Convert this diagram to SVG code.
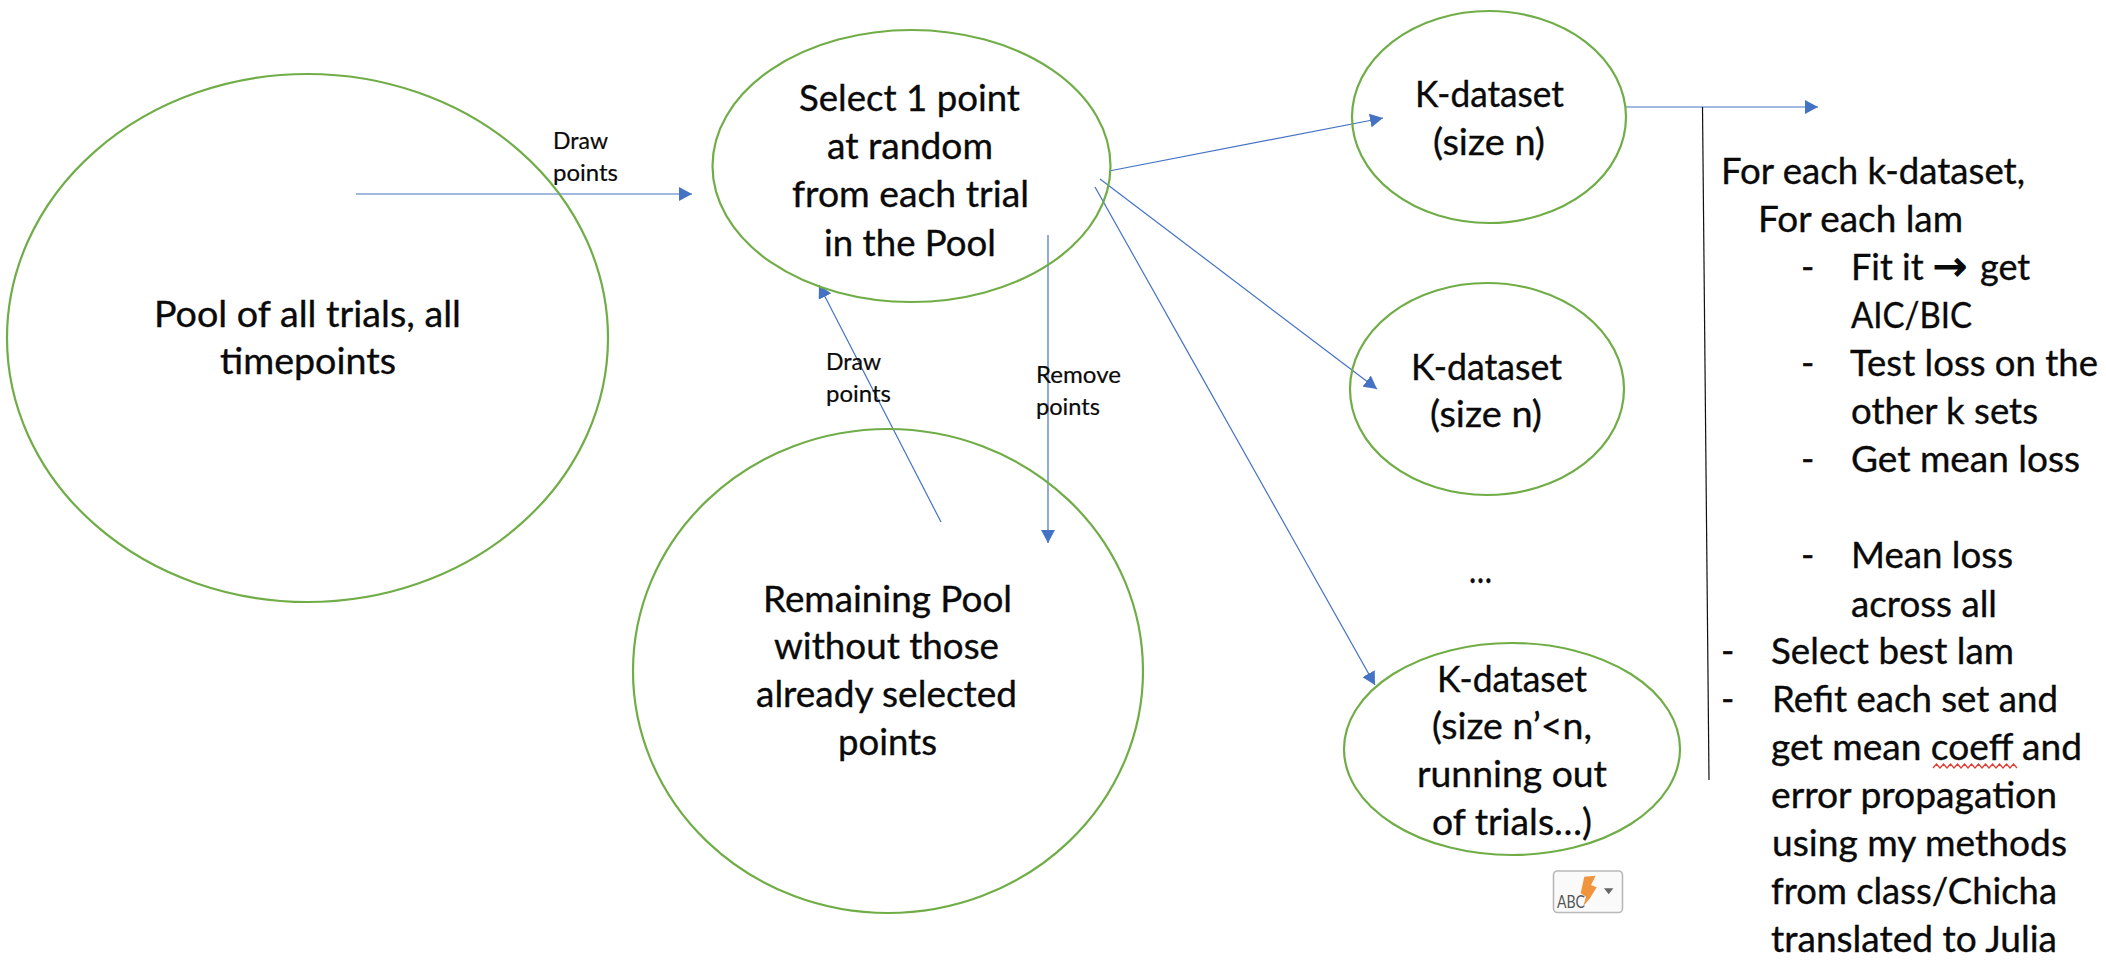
<svg xmlns="http://www.w3.org/2000/svg" width="2106" height="978" viewBox="0 0 2106 978">
<style>
.n{fill:none;stroke:#70AD47;stroke-width:2.2}
.c{fill:none;stroke:#4472C4;stroke-width:1.2;marker-end:url(#a)}
text{font-family:Lato,"Liberation Sans",sans-serif;fill:#0a0a0a}
.t{font-size:36px;stroke:#0a0a0a;stroke-width:.35}
.s{font-size:24px;stroke:#0a0a0a;stroke-width:.2}
</style>
<defs>
<marker id="a" markerUnits="userSpaceOnUse" markerWidth="14" markerHeight="14" refX="13" refY="7" orient="auto"><path d="M0 0L13 7L0 14Z" fill="#4472C4"/></marker>
</defs>
<rect width="2106" height="978" fill="#fff"/>
<g id="connectors">
<path class="c" d="M356 194H692"/>
<path class="c" d="M941 522L819 285"/>
<path class="c" d="M1048 235V543"/>
<path class="c" d="M1109 171L1383 118"/>
<path class="c" d="M1100 179L1377 389"/>
<path class="c" d="M1095 187L1375 685"/>
<path class="c" d="M1626 107H1818"/>
<path d="M1702.500 107L1709 780" fill="none" stroke="#111" stroke-width="1.200"/>
</g>
<g id="node-pool">
<ellipse class="n" cx="307.500" cy="338" rx="300.500" ry="264"/>
<text class="t" x="154" y="327" textLength="307" lengthAdjust="spacingAndGlyphs">Pool of all trials, all</text>
<text class="t" x="220" y="374" textLength="176" lengthAdjust="spacingAndGlyphs">timepoints</text>
</g>
<g id="node-select">
<ellipse class="n" cx="911.500" cy="166" rx="199" ry="136"/>
<text class="t" x="799" y="111" textLength="221" lengthAdjust="spacingAndGlyphs">Select 1 point</text>
<text class="t" x="827" y="159" textLength="166" lengthAdjust="spacingAndGlyphs">at random</text>
<text class="t" x="792" y="207" textLength="237" lengthAdjust="spacingAndGlyphs">from each trial</text>
<text class="t" x="824" y="256" textLength="172" lengthAdjust="spacingAndGlyphs">in the Pool</text>
</g>
<g id="node-remaining">
<ellipse class="n" cx="888" cy="671" rx="255" ry="242"/>
<text class="t" x="763" y="612" textLength="249" lengthAdjust="spacingAndGlyphs">Remaining Pool</text>
<text class="t" x="774" y="659" textLength="225" lengthAdjust="spacingAndGlyphs">without those</text>
<text class="t" x="756" y="707" textLength="261" lengthAdjust="spacingAndGlyphs">already selected</text>
<text class="t" x="838" y="755" textLength="99" lengthAdjust="spacingAndGlyphs">points</text>
</g>
<g id="node-k1">
<ellipse class="n" cx="1489" cy="117" rx="137" ry="106"/>
<text class="t" x="1415" y="107" textLength="149" lengthAdjust="spacingAndGlyphs">K-dataset</text>
<text class="t" x="1433" y="155" textLength="112" lengthAdjust="spacingAndGlyphs">(size n)</text>
</g>
<g id="node-k2">
<ellipse class="n" cx="1487" cy="389" rx="137" ry="106"/>
<text class="t" x="1411" y="380" textLength="151" lengthAdjust="spacingAndGlyphs">K-dataset</text>
<text class="t" x="1430" y="427" textLength="112" lengthAdjust="spacingAndGlyphs">(size n)</text>
</g>
<g id="node-k3">
<ellipse class="n" cx="1512" cy="749" rx="168" ry="106"/>
<text class="t" x="1437" y="692" textLength="150" lengthAdjust="spacingAndGlyphs">K-dataset</text>
<text class="t" x="1432" y="739" textLength="160" lengthAdjust="spacingAndGlyphs">(size n’&lt;n,</text>
<text class="t" x="1417" y="787" textLength="190" lengthAdjust="spacingAndGlyphs">running out</text>
<text class="t" x="1432" y="835" textLength="160" lengthAdjust="spacingAndGlyphs">of trials…)</text>
</g>
<g id="ellipsis"><text class="t" x="1469" y="583" textLength="23" lengthAdjust="spacingAndGlyphs">…</text></g>
<g id="labels">
<text class="s" x="553" y="149" textLength="55" lengthAdjust="spacingAndGlyphs">Draw</text>
<text class="s" x="553" y="181" textLength="65" lengthAdjust="spacingAndGlyphs">points</text>
<text class="s" x="826" y="370" textLength="55" lengthAdjust="spacingAndGlyphs">Draw</text>
<text class="s" x="826" y="402" textLength="65" lengthAdjust="spacingAndGlyphs">points</text>
<text class="s" x="1036" y="383" textLength="85" lengthAdjust="spacingAndGlyphs">Remove</text>
<text class="s" x="1036" y="415" textLength="64" lengthAdjust="spacingAndGlyphs">points</text>
</g>
<g id="notes">
<text class="t" x="1721" y="184" textLength="304" lengthAdjust="spacingAndGlyphs">For each k-dataset,</text>
<text class="t" x="1758" y="232" textLength="205" lengthAdjust="spacingAndGlyphs">For each lam</text>
<text class="t" x="1801" y="280">-</text>
<text class="t" y="280"><tspan x="1851">Fit it</tspan><tspan x="1933" style="font-family:'DejaVu Sans',sans-serif;stroke-width:1.2" font-size="41">→</tspan><tspan x="1980">get</tspan></text>
<text class="t" x="1851" y="328" textLength="121" lengthAdjust="spacingAndGlyphs">AIC/BIC</text>
<text class="t" x="1801" y="376">-</text>
<text class="t" x="1850" y="376" textLength="248" lengthAdjust="spacingAndGlyphs">Test loss on the</text>
<text class="t" x="1851" y="424" textLength="187" lengthAdjust="spacingAndGlyphs">other k sets</text>
<text class="t" x="1801" y="472">-</text>
<text class="t" x="1851" y="472" textLength="229" lengthAdjust="spacingAndGlyphs">Get mean loss</text>
<text class="t" x="1801" y="568">-</text>
<text class="t" x="1851" y="568" textLength="162" lengthAdjust="spacingAndGlyphs">Mean loss</text>
<text class="t" x="1851" y="617" textLength="146" lengthAdjust="spacingAndGlyphs">across all</text>
<text class="t" x="1721" y="664">-</text>
<text class="t" x="1771" y="664" textLength="243" lengthAdjust="spacingAndGlyphs">Select best lam</text>
<text class="t" x="1721" y="712">-</text>
<text class="t" x="1772" y="712" textLength="286" lengthAdjust="spacingAndGlyphs">Refit each set and</text>
<text class="t" x="1771" y="760" textLength="311" lengthAdjust="spacingAndGlyphs">get mean coeff and</text>
<text class="t" x="1771" y="808" textLength="286" lengthAdjust="spacingAndGlyphs">error propagation</text>
<text class="t" x="1772" y="856" textLength="295" lengthAdjust="spacingAndGlyphs">using my methods</text>
<text class="t" x="1771" y="904" textLength="286" lengthAdjust="spacingAndGlyphs">from class/Chicha</text>
<text class="t" x="1771" y="952" textLength="286" lengthAdjust="spacingAndGlyphs">translated to Julia</text>
<path d="M1933 768l3.500-4 3.500 4 3.500-4 3.500 4 3.500-4 3.500 4 3.500-4 3.500 4 3.500-4 3.500 4 3.500-4 3.500 4 3.500-4 3.500 4 3.500-4 3.500 4 3.500-4 3.500 4 3.500-4 3.500 4 3.500-4 3.500 4 3.500-4 3.500 4" fill="none" stroke="#e03c31" stroke-width="1.200"/>
</g>
<g id="autocorrect-button">
<rect x="1553.500" y="871" width="69" height="41.500" rx="4" fill="#fafafa" stroke="#b9b9b9" stroke-width="1.600"/>
<polygon points="1584.300,876.700 1595.700,875.700 1591,885 1596.700,887.300 1590,898.300 1583.300,906 1586,896.700 1580.700,893.300" fill="#F0943D"/>
<text x="1557" y="907.500" font-size="17" textLength="28" lengthAdjust="spacingAndGlyphs" style="fill:#555">ABC</text>
<polygon points="1604,888.300 1613.300,888.300 1608.700,894.300" fill="#666"/>
</g>
</svg>
